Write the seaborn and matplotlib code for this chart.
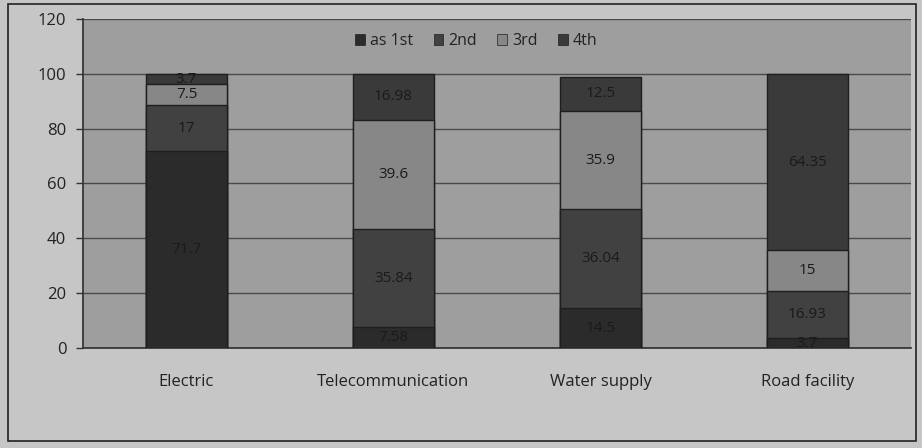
import numpy as np
import pandas as pd
import matplotlib
matplotlib.use("Agg")
import matplotlib.pyplot as plt
from matplotlib.patches import Patch, Rectangle
import seaborn as sns

categories = ["Electric", "Telecommunication", "Water supply", "Road facility"]
series_names = ["as 1st", "2nd", "3rd", "4th"]
first = [71.7, 7.58, 14.5, 3.7]
second = [17.0, 35.84, 36.04, 16.93]
third = [7.5, 39.6, 35.9, 15.0]
fourth = [3.7, 16.98, 12.5, 64.35]
y_ticks = [0, 20, 40, 60, 80, 100, 120]

colors = ["#2b2b2b", "#414141", "#878787", "#3a3a3a"]

sns.set_theme(style="white")
plt.rcParams["font.family"] = ["Open Sans", "DejaVu Sans"]

fig = plt.figure(figsize=(9.22, 4.48), dpi=100)
fig.patch.set_facecolor("#c6c6c6")
fig.patches.append(Rectangle((0.009, 0.015), 0.985, 0.975, transform=fig.transFigure,
                             fill=False, edgecolor="#222222", linewidth=1.2))
ax = fig.add_axes([0.09, 0.223, 0.898, 0.735])
ax.set_facecolor("#9e9e9e")

series = [first, second, third, fourth]
cum = np.cumsum(np.array(series), axis=0)

# Stacked bars: draw cumulative totals from the top segment downwards
for i in range(len(series) - 1, -1, -1):
    df = pd.DataFrame({"cat": categories, "val": cum[i]})
    sns.barplot(data=df, x="cat", y="val", order=categories, color=colors[i],
                width=0.39, edgecolor="#1e1e1e", linewidth=1.0, saturation=1,
                ax=ax, zorder=3)

# Segment value labels
for j, cat in enumerate(categories):
    base = 0.0
    for i, s in enumerate(series):
        v = s[j]
        ax.text(j, base + v / 2, f"{v:g}", ha="center", va="center",
                fontsize=11, color="#1a1a1a", zorder=5)
        base += v

ax.set_ylim(0, 120)
ax.set_xlim(-0.5, 3.5)
ax.set_yticks(y_ticks)
ax.set_yticklabels([str(t) for t in y_ticks], fontsize=12, color="#222222")
ax.tick_params(axis="x", labelsize=12, colors="#222222", length=0, pad=19)
ax.tick_params(axis="y", length=5, width=1, color="#333333", direction="out", left=True, pad=7)
ax.set_xlabel("")
ax.set_ylabel("")
ax.grid(axis="y", color="#4a4a4a", linewidth=1.0, zorder=1)
ax.set_axisbelow(True)
for side in ["top", "right"]:
    ax.spines[side].set_visible(False)
ax.spines["left"].set_color("#333333")
ax.spines["bottom"].set_color("#333333")

handles = [Patch(facecolor=c, edgecolor="#1e1e1e", linewidth=0.5) for c in colors]
ax.legend(handles, series_names, loc="upper center", bbox_to_anchor=(0.475, 1.0),
          ncol=4, frameon=False, fontsize=11.5, handlelength=0.6, handleheight=0.6,
          handletextpad=0.3, columnspacing=1.3, labelcolor="#222222")

fig.savefig("out.png", dpi=100, facecolor=fig.get_facecolor())
